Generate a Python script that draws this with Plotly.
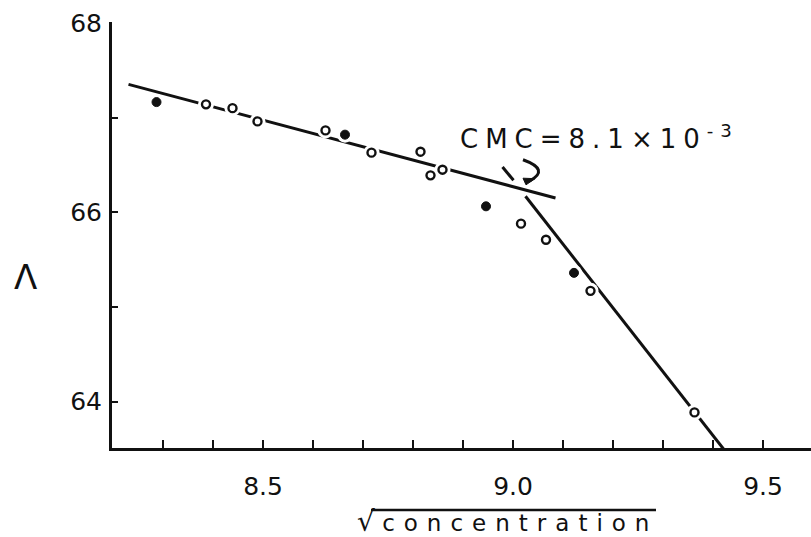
import plotly.graph_objects as go

# data
open_x = [8.386, 8.439, 8.489, 8.625, 8.717, 8.815, 8.835, 8.859, 9.016, 9.066, 9.155, 9.363]
open_y = [67.14, 67.10, 66.96, 66.865, 66.63, 66.64, 66.39, 66.45, 65.88, 65.71, 65.17, 63.886]
filled_x = [8.287, 8.664, 8.946, 9.122]
filled_y = [67.164, 66.82, 66.063, 65.36]

fit1_x = [8.231, 9.085]
fit1_y = [67.351, 66.151]
fit2_x = [9.025, 9.424]
fit2_y = [66.169, 63.48]
cmc_mark_x = [8.979, 9.001]
cmc_mark_y = [66.478, 66.338]

x_tickvals = [8.3, 8.4, 8.5, 8.6, 8.7, 8.8, 8.9, 9.0, 9.1, 9.2, 9.3, 9.4, 9.5]
x_ticktext = ["", "", "8.5", "", "", "", "", "9.0", "", "", "", "", "9.5"]
y_tickvals = [64, 65, 66, 67, 68]
y_ticktext = ["64", "", "66", "", "68"]

FONT = "DejaVu Sans"
INK = "#111111"

fig = go.Figure()
for fx, fy in [(fit1_x, fit1_y), (fit2_x, fit2_y), (cmc_mark_x, cmc_mark_y)]:
    fig.add_trace(go.Scatter(x=fx, y=fy, mode="lines",
                             line=dict(color=INK, width=3), hoverinfo="skip"))

# white halos (gaps in the line around the points)
fig.add_trace(go.Scatter(x=open_x + filled_x, y=open_y + filled_y, mode="markers",
                         marker=dict(size=16, color="white", line=dict(width=0)),
                         hoverinfo="skip"))
fig.add_trace(go.Scatter(x=open_x, y=open_y, mode="markers",
                         marker=dict(size=8, color="white", line=dict(color=INK, width=2.4))))
fig.add_trace(go.Scatter(x=filled_x, y=filled_y, mode="markers",
                         marker=dict(size=9, color=INK, line=dict(color=INK, width=1))))

# curved arrow from CMC label to intersection
fig.add_shape(type="path", xref="x", yref="y",
              path="M 9.020,66.555 Q 9.075,66.45 9.033,66.33",
              line=dict(color=INK, width=3))
fig.add_shape(type="path", xref="x", yref="y",
              path="M 9.020,66.36 L 9.044,66.355 L 9.026,66.29 Z",
              fillcolor=INK, line=dict(color=INK, width=1))


def px_x(p):
    return (p - 112) / 699.0


def px_y(p):
    return (448 - p) / 426.0


fig.add_annotation(xref="paper", yref="paper", x=px_x(458), y=px_y(137),
                   xanchor="left", yanchor="middle", showarrow=False,
                   text='<span style="letter-spacing:7px">CMC=8.1×10<sup>-3</sup></span>',
                   font=dict(family=FONT, size=26, color=INK))
fig.add_annotation(xref="paper", yref="paper", x=px_x(355), y=px_y(521),
                   xanchor="left", yanchor="middle", showarrow=False,
                   text='<span style="font-size:28px">√</span> <span style="letter-spacing:9px">concentration</span>',
                   font=dict(family=FONT, size=23, color=INK))
fig.add_shape(type="line", xref="paper", yref="paper",
              x0=px_x(371), x1=px_x(656), y0=px_y(510), y1=px_y(510),
              line=dict(color=INK, width=2.5))
fig.add_annotation(xref="paper", yref="paper", x=px_x(25), y=px_y(277),
                   xanchor="center", yanchor="middle", showarrow=False,
                   text="Λ", font=dict(family=FONT, size=34, color=INK))

fig.update_xaxes(range=[8.198, 9.596], showgrid=False, zeroline=False,
                 showline=True, linecolor=INK, linewidth=3,
                 tickmode="array", tickvals=x_tickvals, ticktext=x_ticktext,
                 ticks="inside", ticklen=8, tickwidth=2, tickcolor=INK,
                 ticklabelstandoff=14,
                 tickfont=dict(family=FONT, size=25, color=INK))
fig.update_yaxes(range=[63.51, 68.01], showgrid=False, zeroline=False,
                 showline=True, linecolor=INK, linewidth=3,
                 tickmode="array", tickvals=y_tickvals, ticktext=y_ticktext,
                 ticks="inside", ticklen=6, tickwidth=2, tickcolor=INK,
                 ticklabelstandoff=2,
                 tickfont=dict(family=FONT, size=25, color=INK))

fig.update_layout(width=811, height=537, showlegend=False,
                  plot_bgcolor="white", paper_bgcolor="white",
                  margin=dict(l=112, r=0, t=22, b=89))

fig.write_html("out.html", config={"displayModeBar": False},
               post_script="document.body.style.margin='0px';document.body.style.overflow='hidden';")
